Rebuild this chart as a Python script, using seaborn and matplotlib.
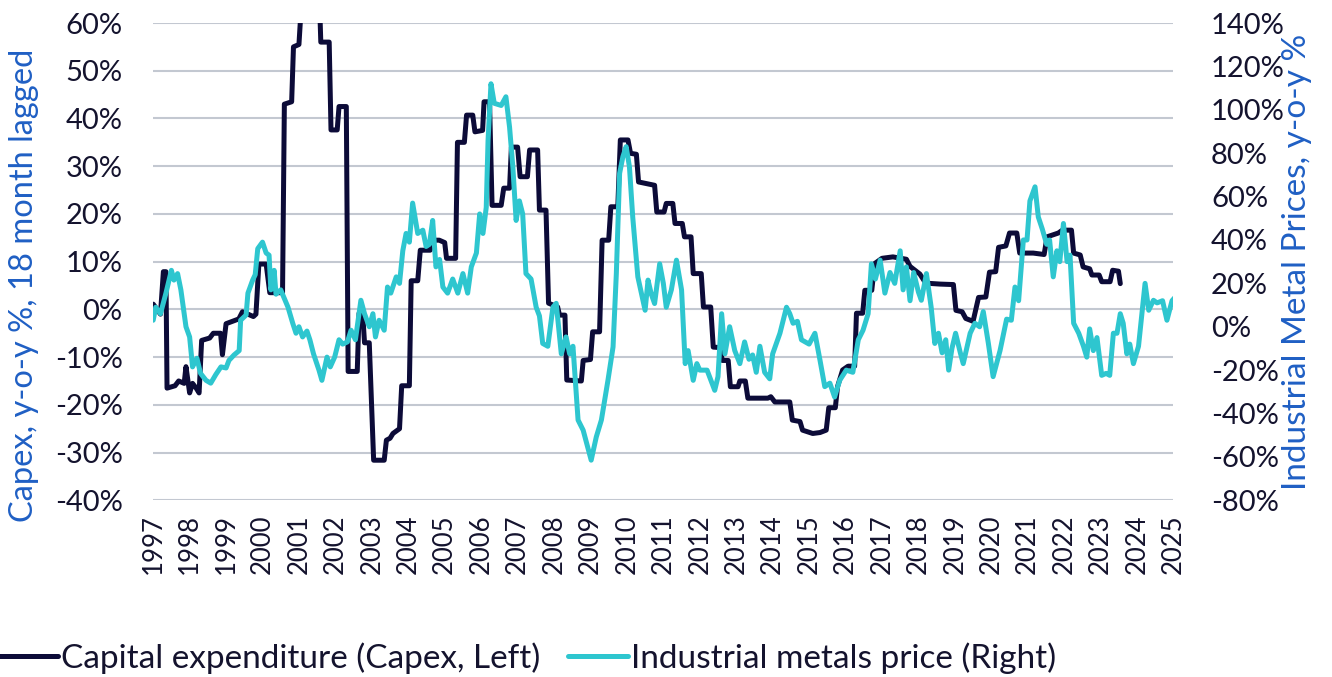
import matplotlib
matplotlib.use("Agg")
import matplotlib.pyplot as plt
import seaborn as sns
import pandas as pd
from matplotlib.ticker import FuncFormatter

# ---------------- data ----------------
capex_dates = [1997.00, 1997.20, 1997.28, 1997.35, 1997.38, 1997.60, 1997.70, 1997.85, 1997.90, 1998.00,
               1998.08, 1998.18, 1998.26, 1998.33, 1998.55, 1998.65, 1998.85, 1998.90, 1999.00, 1999.35,
               1999.45, 1999.75, 1999.82, 1999.90, 2000.10, 2000.20, 2000.55, 2000.60, 2000.80, 2000.85,
               2001.00, 2001.10, 2001.55, 2001.60, 2001.83, 2001.88, 2002.05, 2002.10, 2002.30, 2002.35,
               2002.60, 2002.65, 2002.75, 2002.80, 2002.93, 2003.05, 2003.34, 2003.40, 2003.50, 2003.58,
               2003.76, 2003.82, 2004.03, 2004.08, 2004.26, 2004.33, 2004.60, 2004.66, 2004.85, 2005.00,
               2005.05, 2005.30, 2005.35, 2005.54, 2005.60, 2005.77, 2005.83, 2006.04, 2006.08, 2006.23,
               2006.30, 2006.55, 2006.62, 2006.78, 2006.83, 2007.00, 2007.07, 2007.27, 2007.33, 2007.55,
               2007.60, 2007.78, 2007.85, 2008.10, 2008.15, 2008.30, 2008.35, 2008.75, 2008.80, 2009.00,
               2009.06, 2009.25, 2009.32, 2009.50, 2009.56, 2009.75, 2009.82, 2010.03, 2010.10, 2010.26,
               2010.32, 2010.76, 2010.82, 2011.02, 2011.08, 2011.26, 2011.32, 2011.52, 2011.58, 2011.76,
               2011.82, 2012.04, 2012.10, 2012.30, 2012.37, 2012.55, 2012.62, 2012.78, 2012.84, 2013.05,
               2013.10, 2013.25, 2013.32, 2013.87, 2013.95, 2014.06, 2014.47, 2014.54, 2014.75, 2014.82,
               2015.10, 2015.30, 2015.47, 2015.54, 2015.72, 2015.78, 2015.92, 2016.07, 2016.25, 2016.30,
               2016.47, 2016.53, 2016.72, 2016.80, 2017.00, 2017.30, 2017.67, 2017.77, 2018.04, 2018.20,
               2018.60, 2018.96, 2019.03, 2019.20, 2019.30, 2019.50, 2019.65, 2019.85, 2019.95, 2020.12,
               2020.20, 2020.40, 2020.50, 2020.70, 2020.78, 2021.15, 2021.45, 2021.53, 2021.84, 2021.95,
               2022.20, 2022.26, 2022.44, 2022.52, 2022.70, 2022.76, 2022.96, 2023.03, 2023.26, 2023.33,
               2023.49, 2023.54]
capex_vals = [1.1, -1.0, 7.9, 7.9, -16.5, -16.0, -15.0, -15.5, -12.0, -17.5,
              -15.5, -16.5, -17.5, -6.5, -6.0, -5.0, -5.0, -9.5, -3.0, -2.0,
              -0.5, -1.5, -1.0, 9.5, 9.5, 3.5, 3.5, 43.0, 43.5, 55.0,
              55.5, 68.0, 68.0, 56.0, 56.0, 37.6, 37.6, 42.5, 42.5, -13.0,
              -13.0, -0.8, -1.0, -7.0, -7.0, -31.6, -31.6, -27.4, -27.0, -26.0,
              -25.0, -16.0, -16.0, 6.0, 6.0, 12.4, 12.4, 14.5, 14.5, 14.0,
              10.7, 10.7, 35.0, 35.0, 40.7, 40.7, 37.2, 37.5, 43.5, 43.5,
              21.8, 21.8, 25.4, 25.4, 34.0, 34.0, 27.8, 27.8, 33.4, 33.4,
              20.8, 20.8, 1.3, 0.5, -1.2, -1.2, -14.8, -15.0, -10.7, -10.5,
              -4.7, -4.7, 14.5, 14.5, 21.5, 21.5, 35.5, 35.5, 32.7, 32.5,
              26.7, 26.0, 20.4, 20.4, 22.2, 22.2, 18.0, 18.0, 15.2, 15.2,
              7.5, 7.5, 0.5, 0.5, -7.9, -8.0, -10.7, -10.7, -16.2, -16.2,
              -15.0, -15.0, -18.6, -18.6, -18.3, -19.4, -19.4, -23.2, -23.5, -25.3,
              -26.0, -25.8, -25.3, -20.6, -20.6, -16.2, -12.7, -11.9, -11.9, -0.8,
              -0.8, 4.0, 4.0, 9.6, 10.7, 11.0, 10.5, 9.0, 7.4, 5.5,
              5.3, 5.2, -0.2, -0.5, -1.9, -2.5, 2.5, 2.6, 7.8, 7.9,
              13.0, 13.3, 16.0, 16.0, 11.8, 11.8, 11.5, 15.2, 16.0, 16.6,
              16.6, 11.8, 11.4, 8.9, 8.5, 7.2, 7.2, 5.8, 5.8, 8.2,
              8.0, 5.4]

metals_dates = [1997.00, 1997.07, 1997.20, 1997.35, 1997.50, 1997.57, 1997.67, 1997.76, 1997.90, 1998.00,
                1998.08, 1998.20, 1998.30, 1998.45, 1998.58, 1998.72, 1998.86, 1999.00, 1999.08, 1999.22,
                1999.36, 1999.40, 1999.55, 1999.60, 1999.73, 1999.80, 1999.87, 2000.00, 2000.10, 2000.18,
                2000.23, 2000.32, 2000.37, 2000.50, 2000.70, 2000.83, 2000.92, 2001.00, 2001.10, 2001.22,
                2001.30, 2001.40, 2001.55, 2001.63, 2001.77, 2001.86, 2001.98, 2002.10, 2002.20, 2002.33,
                2002.43, 2002.55, 2002.70, 2002.80, 2002.93, 2003.03, 2003.10, 2003.20, 2003.34, 2003.43,
                2003.52, 2003.67, 2003.76, 2003.85, 2003.94, 2004.03, 2004.12, 2004.26, 2004.40, 2004.49,
                2004.58, 2004.67, 2004.76, 2004.86, 2004.95, 2005.08, 2005.22, 2005.36, 2005.50, 2005.63,
                2005.73, 2005.87, 2005.96, 2006.05, 2006.14, 2006.19, 2006.27, 2006.36, 2006.55, 2006.68,
                2006.78, 2006.87, 2006.96, 2007.05, 2007.14, 2007.23, 2007.37, 2007.51, 2007.60, 2007.69,
                2007.83, 2007.97, 2008.06, 2008.20, 2008.33, 2008.43, 2008.52, 2008.66, 2008.80, 2009.02,
                2009.16, 2009.30, 2009.48, 2009.62, 2009.71, 2009.80, 2009.89, 2009.98, 2010.07, 2010.16,
                2010.30, 2010.50, 2010.58, 2010.67, 2010.76, 2010.90, 2011.00, 2011.08, 2011.22, 2011.36,
                2011.50, 2011.60, 2011.68, 2011.82, 2011.92, 2012.00, 2012.20, 2012.41, 2012.50, 2012.60,
                2012.69, 2012.82, 2012.96, 2013.10, 2013.23, 2013.35, 2013.45, 2013.55, 2013.65, 2013.78,
                2013.92, 2014.00, 2014.20, 2014.38, 2014.47, 2014.56, 2014.68, 2014.79, 2015.00, 2015.16,
                2015.30, 2015.43, 2015.57, 2015.70, 2015.84, 2016.02, 2016.20, 2016.35, 2016.48, 2016.62,
                2016.71, 2016.82, 2016.95, 2017.08, 2017.22, 2017.35, 2017.50, 2017.58, 2017.67, 2017.77,
                2017.87, 2018.00, 2018.08, 2018.22, 2018.35, 2018.45, 2018.55, 2018.65, 2018.75, 2018.83,
                2018.92, 2019.02, 2019.15, 2019.23, 2019.42, 2019.55, 2019.68, 2019.78, 2019.92, 2020.05,
                2020.24, 2020.42, 2020.55, 2020.65, 2020.75, 2020.88, 2020.98, 2021.06, 2021.20, 2021.29,
                2021.40, 2021.52, 2021.60, 2021.70, 2021.80, 2021.88, 2021.98, 2022.08, 2022.16, 2022.26,
                2022.40, 2022.53, 2022.62, 2022.70, 2022.80, 2022.90, 2023.03, 2023.15, 2023.25, 2023.35,
                2023.45, 2023.54, 2023.62, 2023.72, 2023.80, 2023.90, 2024.04, 2024.22, 2024.32, 2024.45,
                2024.55, 2024.70, 2024.82, 2024.96, 2025.05]
metals_vals = [3, 9, 6, 15.5, 26, 21.5, 24.5, 17, 0, -4.7,
               -18.5, -14.5, -21.5, -24.7, -26, -22, -18.5, -19, -15.5, -13,
               -11, 3, 5.4, 15.5, 21.5, 24, 36, 39, 34, 33,
               17, 26, 15, 17, 9, 1.6, -3, 0, -4.7, -2,
               -6, -12.5, -20, -24.7, -14, -18.5, -14, -6, -8, -7,
               -1.6, -6, 12.2, 6, 0, 6, -4.7, 3, -1.6, 18.3,
               15.5, 23, 20, 35, 43, 39, 57, 43, 44.5, 37,
               38, 49, 27.6, 31, 18.3, 15.5, 22, 15.5, 24.5, 15.5,
               27.6, 34, 52, 43, 55, 86, 112, 103, 102, 106,
               92, 73.7, 49, 58, 52, 24.5, 22, 9, 5, -7.7,
               -9, 9, 10.8, -12.5, -4.7, -12.5, -9, -43, -47.7, -61.5,
               -50.8, -43, -24.7, -9.3, 24.5, 70.7, 78.4, 83, 73.7, 50.6,
               23, 7.6, 21.5, 15, 10.7, 29, 20, 9, 17, 30.7,
               17, -17, -11, -24.7, -17, -20, -20, -29.3, -23, 6,
               -12.5, 0, -11, -17, -7, -15, -13, -21, -9, -21,
               -24, -12.5, -3, 9, 6, 1.6, 2.5, -6, -8, -3,
               -15.5, -27.6, -26, -32.4, -24.7, -20, -21, -6, -1.6, 6,
               29, 22, 30.7, 15.5, 25, 20, 35, 17, 27.6, 12,
               25, 16, 12.2, 24.5, 9, -7.7, -3, -12, -6, -20,
               -10, -3, -12, -17, -3, 1.6, 0, 7, -7.7, -23,
               -11, 3.5, 3, 18.3, 12, 40, 40, 58, 64.5, 50.6,
               45, 38, 40, 23, 35, 30, 47.6, 30, 33, 1.6,
               -3, -9, -14, -1, -11, -5, -22.4, -21.5, -22.4, -3,
               -3, 6, 1.6, -12.5, -8, -17, -9, 20, 7.6, 12.2,
               11, 12, 3, 12, 13.7]

year_ticks = list(range(1997, 2026))
left_ticks = list(range(-40, 61, 10))
right_ticks = list(range(-80, 141, 20))

capex_label = "Capital expenditure (Capex, Left)"
metals_label = "Industrial metals price (Right)"
left_title = "Capex, y-o-y %, 18 month lagged"
right_title = "Industrial Metal Prices, y-o-y %"

# ---------------- style ----------------
sns.set_style("white")
plt.rcParams["font.family"] = ["Lato", "DejaVu Sans"]

NAVY = "#0c0b38"
CYAN = "#2ec6cf"
BLUE = "#1f5fc4"
GRID = "#c3c8d1"
TXT = "#14132e"

capex_df = pd.DataFrame({"date": capex_dates, "value": capex_vals})
metals_df = pd.DataFrame({"date": metals_dates, "value": metals_vals})

fig = plt.figure(figsize=(13.32, 6.77), dpi=100)
ax = fig.add_axes([0.115, 0.261, 0.766, 0.705])
ax2 = ax.twinx()

sns.lineplot(data=capex_df, x="date", y="value", ax=ax, color=NAVY, linewidth=3.6,
             estimator=None, sort=False, label=capex_label, legend=False)
sns.lineplot(data=metals_df, x="date", y="value", ax=ax2, color=CYAN, linewidth=3.6,
             estimator=None, sort=False, label=metals_label, legend=False)

ax.set_xlim(1997, 2025)
ax.set_ylim(-40, 60)
ax2.set_ylim(-80, 140)
ax.set_xticks(year_ticks)
ax.set_xticklabels([str(y) for y in year_ticks], rotation=90)
ax.set_yticks(left_ticks)
ax2.set_yticks(right_ticks)
pct = FuncFormatter(lambda v, p: f"{int(round(v))}%")
ax.yaxis.set_major_formatter(pct)
ax2.yaxis.set_major_formatter(pct)

ax.grid(axis="y", color=GRID, linewidth=1.5)
ax.set_axisbelow(True)
ax2.grid(False)
for a in (ax, ax2):
    for s in a.spines.values():
        s.set_visible(False)
    a.tick_params(length=0, colors=TXT)

ax.tick_params(axis="y", labelsize=21, pad=22)
ax.tick_params(axis="x", labelsize=18.5, pad=10)
ax2.tick_params(axis="y", labelsize=21, pad=27)

ax.set_xlabel("")
ax.set_ylabel(left_title, color=BLUE, fontsize=23.5)
ax.yaxis.set_label_coords(-0.112, 0.45)
ax2.set_ylabel(right_title, color=BLUE, fontsize=24, labelpad=-2)

h1, l1 = ax.get_legend_handles_labels()
h2, l2 = ax2.get_legend_handles_labels()
leg = fig.legend(h1 + h2, l1 + l2, loc="center left", bbox_to_anchor=(-0.024, 0.028),
                 ncol=2, frameon=False, fontsize=24, handlelength=1.8, handletextpad=0.08,
                 columnspacing=0.85)
for t in leg.get_texts():
    t.set_color(TXT)

fig.savefig("out.png", dpi=100, facecolor="white")
